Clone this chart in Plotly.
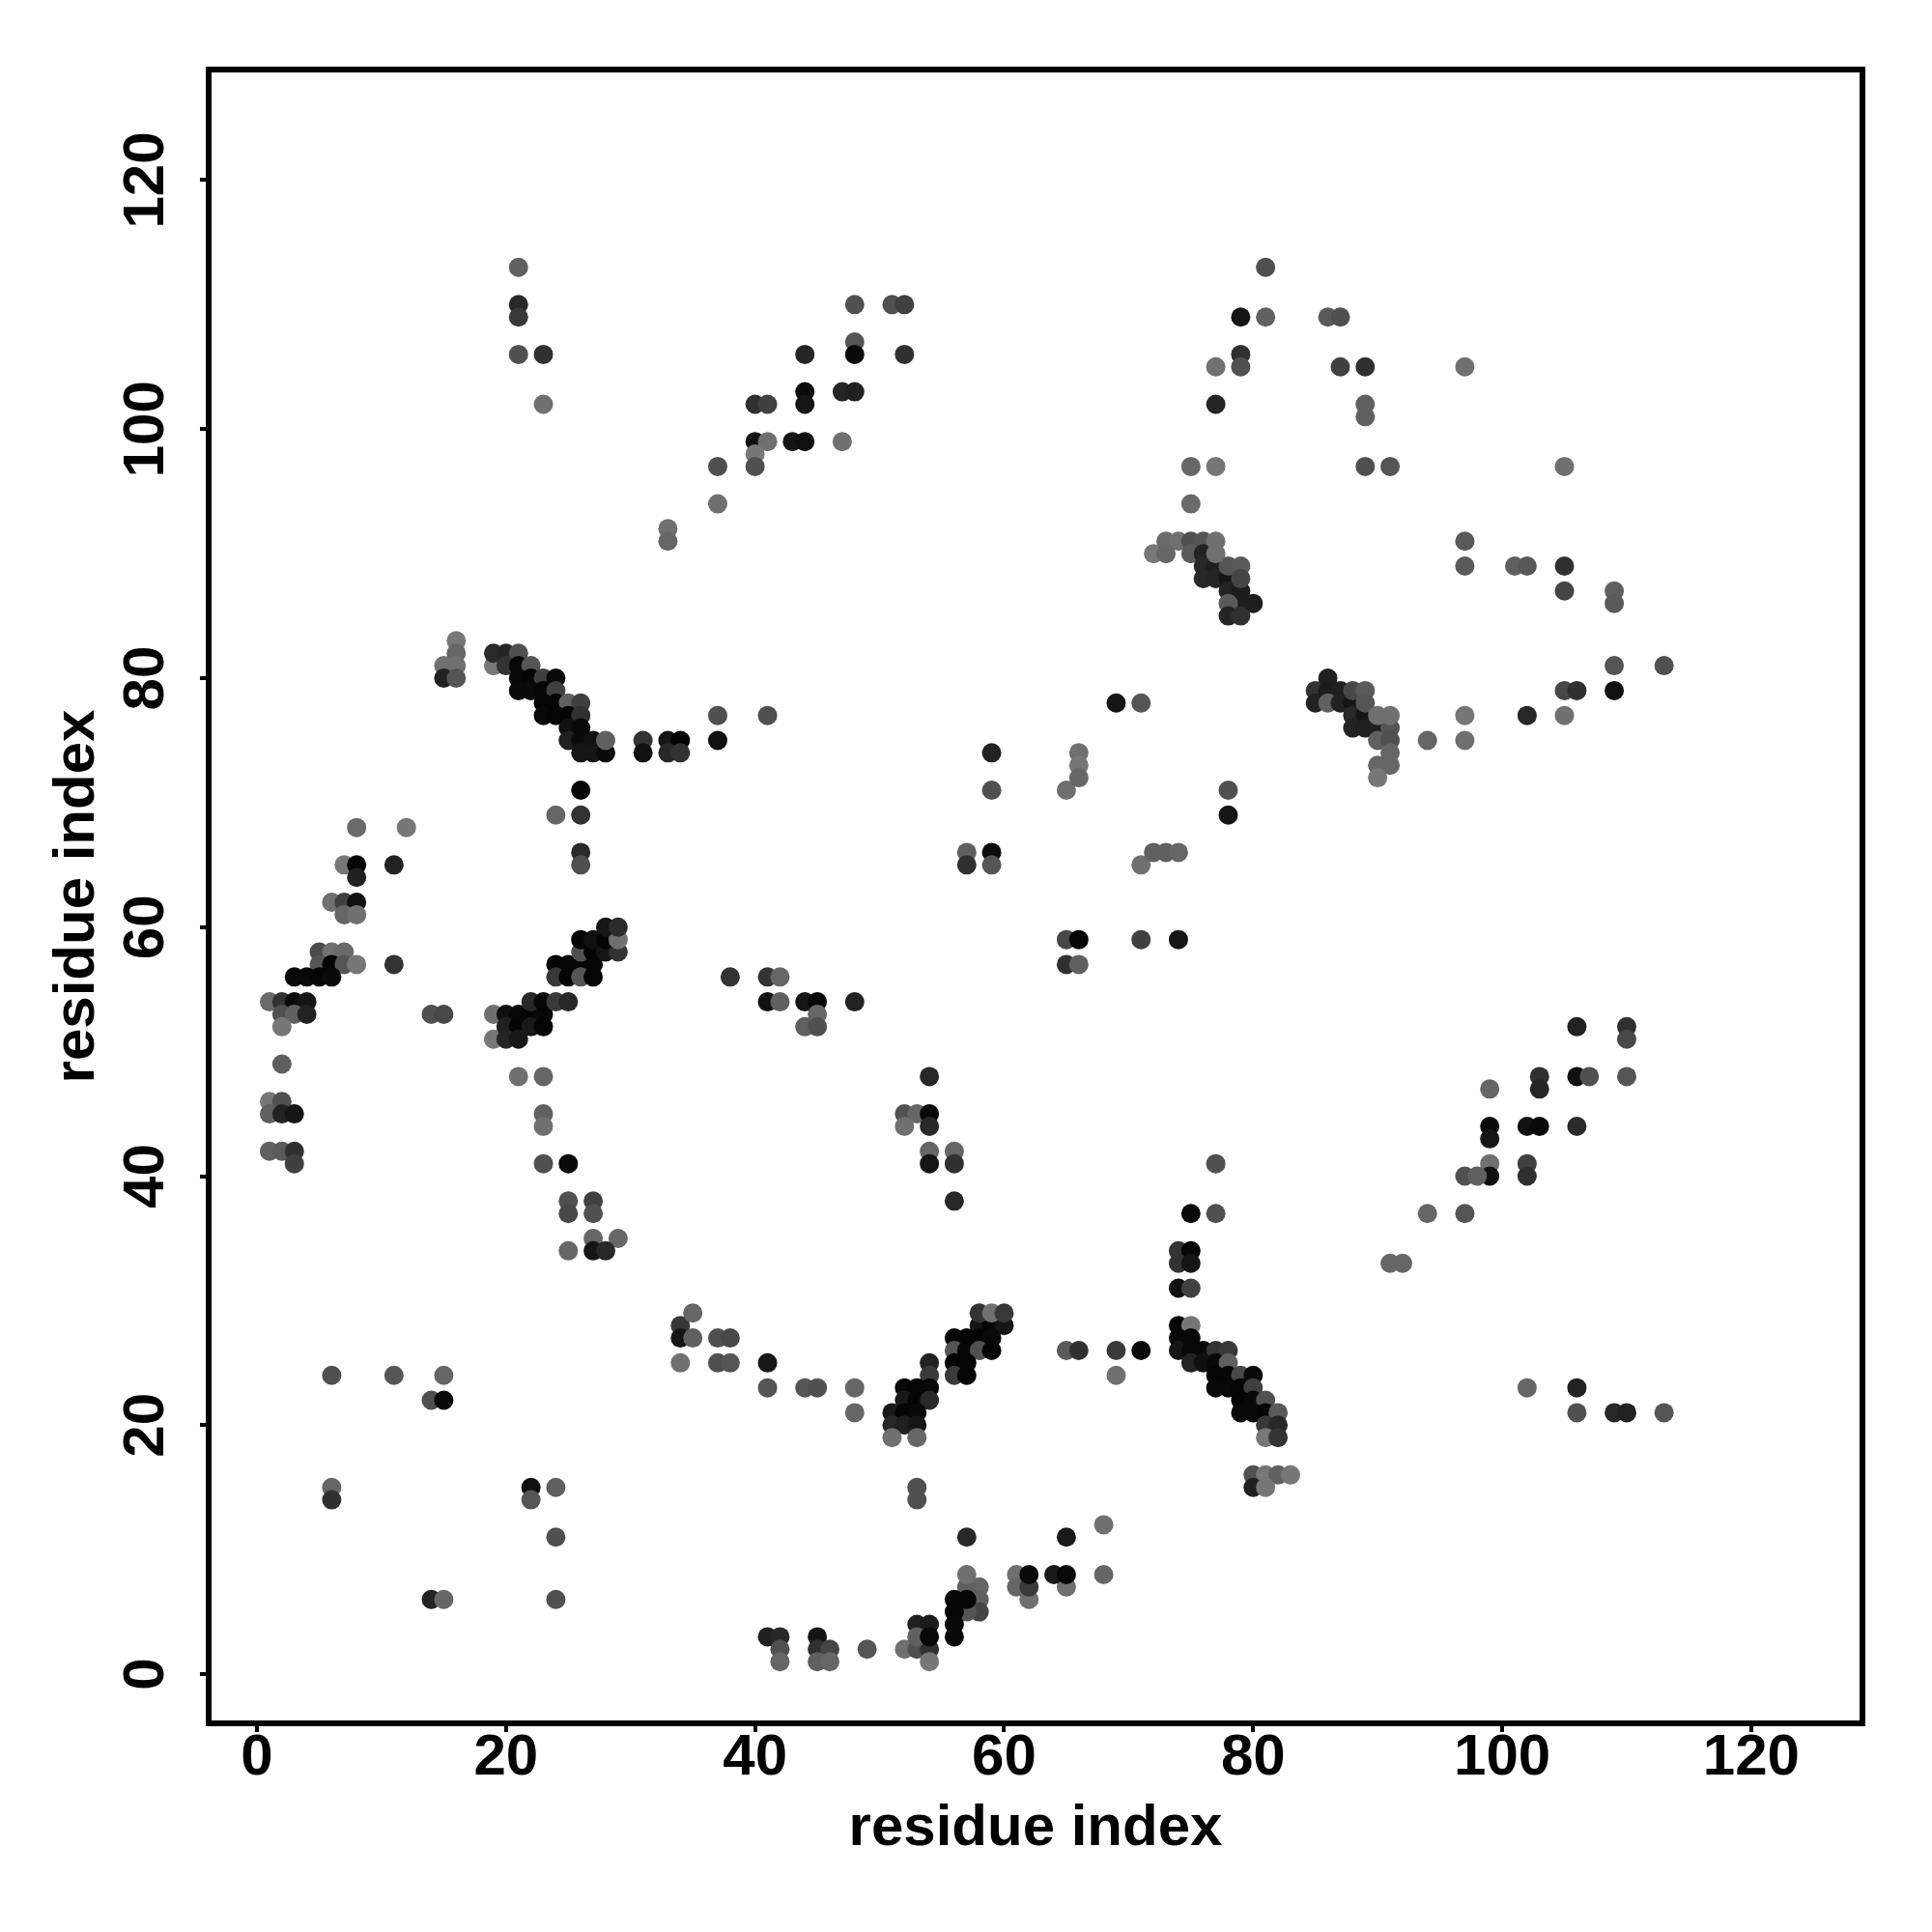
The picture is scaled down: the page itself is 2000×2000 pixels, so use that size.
import plotly.graph_objects as go

tick_values = [0, 20, 40, 60, 80, 100, 120]
axis_label = "residue index"

# (residue i, residue j, grey level)
upper_left = [(21,113,0x60),(21,110,0x28),(21,109,0x38),(21,106,0x50),(23,106,0x30),(23,102,0x70),
 (33,92,0x70),(33,91,0x66),(37,97,0x50),(37,94,0x70),(40,102,0x30),(41,102,0x40),(40,99,0x10),(41,99,0x70),
 (40,98,0x77),(40,97,0x50),(43,99,0x15),(44,99,0x10),(44,103,0x0a),(44,102,0x15),(44,106,0x25),(47,103,0x25),
 (48,103,0x20),(47,99,0x70),(48,110,0x50),(48,107,0x55),(48,106,0x0a),(51,110,0x50),(52,110,0x40),(52,106,0x30)]
upper_right = [(81,113,0x50),(81,109,0x60),(79,109,0x15),(79,106,0x30),(79,105,0x50),(77,105,0x70),(77,102,0x25),
 (75,97,0x66),(77,97,0x77),(75,94,0x6a),(86,109,0x5a),(87,109,0x50),(87,105,0x40),(89,105,0x30),(89,102,0x60),
 (89,101,0x60),(89,97,0x50),(91,97,0x55),(97,105,0x70),(105,97,0x70),(97,91,0x5a),(97,89,0x5a),(101,89,0x60),
 (102,89,0x58),(105,89,0x30),(105,87,0x45),(109,87,0x60),(109,86,0x5a),(109,81,0x55),(113,81,0x50),(105,79,0x48),
 (106,79,0x30),(109,79,0x10),(102,77,0x28),(105,77,0x70),(97,77,0x77),(97,75,0x70),(94,75,0x66)]
band_90 = [(73,91,0x6a),(74,91,0x70),(75,91,0x50),(76,91,0x55),(72,90,0x77),(73,90,0x66),(75,90,0x5a),(76,90,0x22),
 (76,89,0x28),(77,89,0x1f),(76,88,0x28),(77,88,0x25),(78,88,0x15),(78,87,0x22),(79,87,0x1c),(79,86,0x1c),(80,86,0x1e),
 (78,86,0x5a),(78,85,0x25),(79,85,0x30),(78,89,0x55),(79,89,0x5a),(79,88,0x45),(77,91,0x70),(77,90,0x70)]
band_78 = [(85,79,0x33),(85,78,0x22),(86,80,0x20),(86,79,0x1c),(87,79,0x20),(86,78,0x60),(87,78,0x22),(88,78,0x15),
 (88,77,0x28),(89,77,0x15),(88,76,0x22),(89,76,0x20),(90,76,0x20),(88,79,0x48),(89,79,0x5a),(89,78,0x55),(91,76,0x55),
 (90,75,0x5f),(91,75,0x50),(90,77,0x70),(91,77,0x70),(91,74,0x66),(90,73,0x66),(91,73,0x66),(90,72,0x77)]
band_80 = [(16,83,0x77),(16,82,0x66),(15,81,0x70),(16,81,0x70),(15,80,0x22),(16,80,0x55),(19,81,0x78),(19,82,0x2a),
 (20,82,0x25),(21,82,0x50),(20,81,0x33),(21,81,0x08),(22,81,0x55),(21,80,0x08),(22,80,0x05),(23,80,0x40),(24,80,0x0a),
 (21,79,0x0a),(22,79,0x0a),(23,79,0x05),(24,79,0x40),(23,78,0x05),(24,78,0x05),(25,78,0x60),(26,78,0x40),(23,77,0x08),
 (24,77,0x05),(25,77,0x05),(26,77,0x30),(25,76,0x10),(26,76,0x0a),(25,75,0x20),(26,75,0x0a),(27,75,0x10),(26,74,0x15),
 (27,74,0x15),(28,74,0x0a),(28,75,0x60),(31,75,0x33),(31,74,0x10),(33,75,0x15),(34,75,0x05),(33,74,0x28),(34,74,0x33),
 (37,77,0x50),(37,75,0x10),(41,77,0x50),(26,71,0x05),(24,69,0x66),(26,69,0x33),(26,66,0x2a),(26,65,0x50)]
band_56_left = [(8,68,0x6a),(12,68,0x77),(7,65,0x77),(8,65,0x05),(8,64,0x20),(11,65,0x22),(6,62,0x70),(7,62,0x40),
 (8,62,0x10),(7,61,0x66),(8,61,0x70),(5,58,0x4a),(6,58,0x70),(7,58,0x6a),(5,57,0x55),(6,57,0x05),(7,57,0x55),(8,57,0x77),
 (11,57,0x33),(3,56,0x0a),(4,56,0x0a),(5,56,0x05),(6,56,0x0a),(1,54,0x6a),(2,54,0x33),(3,54,0x0a),(4,54,0x15),(2,53,0x50),
 (3,53,0x60),(4,53,0x22),(2,52,0x77),(2,49,0x5f),(14,53,0x50),(15,53,0x48),(1,46,0x77),(2,46,0x50),(1,45,0x60),(2,45,0x22),
 (3,45,0x15),(1,42,0x60),(2,42,0x5a),(3,42,0x30),(3,41,0x40)]
band_56_mid = [(19,53,0x70),(20,53,0x10),(21,53,0x08),(22,53,0x05),(23,53,0x08),(22,54,0x28),(23,54,0x05),(24,54,0x3a),
 (25,54,0x28),(19,51,0x77),(20,52,0x20),(21,52,0x05),(22,52,0x18),(23,52,0x05),(20,51,0x25),(21,51,0x18),(24,57,0x05),
 (25,57,0x05),(26,57,0x05),(27,57,0x05),(24,56,0x38),(25,56,0x05),(26,56,0x55),(27,56,0x05),(26,58,0x50),(27,58,0x05),
 (28,58,0x15),(29,58,0x33),(26,59,0x05),(27,59,0x10),(28,59,0x05),(29,59,0x70),(28,60,0x15),(29,60,0x2a),(21,48,0x70),
 (23,48,0x66),(23,45,0x60),(23,44,0x70),(23,41,0x50),(25,41,0x0a),(25,38,0x50),(27,38,0x40),(25,37,0x48),(27,37,0x50),
 (25,34,0x66),(27,35,0x66),(29,35,0x66),(27,34,0x15),(28,34,0x28)]
middle = [(69,78,0x15),(71,78,0x55),(78,71,0x50),(78,69,0x15),(65,71,0x70),(66,74,0x70),(66,73,0x77),(66,72,0x66),
 (71,65,0x70),(72,66,0x60),(73,66,0x60),(74,66,0x66),(71,59,0x40),(74,59,0x15),(65,59,0x48),(66,59,0x05),(65,57,0x30),
 (66,57,0x60),(59,74,0x22),(59,71,0x50),(57,66,0x60),(57,65,0x30),(59,66,0x0a),(59,65,0x55),(38,56,0x33),(41,56,0x33),
 (42,56,0x66),(41,54,0x10),(42,54,0x60),(44,54,0x15),(45,54,0x08),(48,54,0x22),(45,53,0x66),(44,52,0x60),(45,52,0x50),
 (52,45,0x50),(53,45,0x66),(52,44,0x70),(54,45,0x08),(54,44,0x28),(54,48,0x28),(54,42,0x66),(56,42,0x66),(54,41,0x15),
 (56,41,0x30),(56,38,0x28)]
lower_right = [(99,47,0x66),(99,44,0x08),(99,43,0x15),(99,41,0x70),(99,40,0x10),(97,40,0x50),(98,40,0x60),(97,37,0x55),
 (94,37,0x66),(91,33,0x66),(92,33,0x66),(102,44,0x10),(103,44,0x0a),(102,41,0x40),(102,40,0x30),(103,48,0x30),(103,47,0x25),
 (106,52,0x22),(106,48,0x10),(107,48,0x50),(106,44,0x2a),(110,52,0x30),(110,51,0x48),(110,48,0x55),(102,23,0x66),
 (106,23,0x22),(106,21,0x50),(109,21,0x28),(110,21,0x22),(113,21,0x55),(77,41,0x50),(75,37,0x0a),(77,37,0x50)]
band_25_right = [(74,34,0x33),(75,34,0x05),(74,33,0x33),(75,33,0x15),(74,31,0x10),(75,31,0x40),(74,28,0x05),(75,28,0x77),
 (74,27,0x08),(75,27,0x08),(74,26,0x15),(75,26,0x08),(76,26,0x08),(77,26,0x33),(78,26,0x38),(75,25,0x22),(76,25,0x10),
 (77,25,0x08),(78,25,0x60),(77,24,0x05),(78,24,0x05),(79,24,0x48),(80,24,0x0a),(77,23,0x08),(78,23,0x08),(79,23,0x05),
 (80,23,0x40),(79,22,0x05),(80,22,0x08),(81,22,0x50),(79,21,0x08),(80,21,0x08),(81,21,0x05),(82,21,0x5a),(81,20,0x38),
 (82,20,0x28),(81,19,0x77),(82,19,0x33),(80,16,0x50),(81,16,0x77),(82,16,0x60),(83,16,0x77),(80,15,0x20),(81,15,0x77),
 (65,26,0x5a),(66,26,0x30),(69,26,0x3a),(71,26,0x08),(69,24,0x70)]
band_25_left = [(58,28,0x15),(59,28,0x05),(60,28,0x15),(58,29,0x33),(59,29,0x70),(60,29,0x38),
 (56,27,0x05),(57,27,0x05),(58,27,0x05),(59,27,0x0a),(56,26,0x55),(57,26,0x05),(58,26,0x50),(59,26,0x05),(56,25,0x05),
 (57,25,0x05),(54,25,0x22),(56,24,0x3a),(57,24,0x05),(54,24,0x3a),(52,23,0x08),(53,23,0x05),(54,23,0x08),(52,22,0x18),
 (53,22,0x05),(54,22,0x28),(51,21,0x1a),(52,21,0x05),(53,21,0x08),(51,20,0x28),(52,20,0x20),(53,20,0x15),(51,19,0x70),
 (53,19,0x66),(48,23,0x66),(48,21,0x66),(53,15,0x50),(53,14,0x50),(34,28,0x38),(34,27,0x15),(35,29,0x66),(35,27,0x60),
 (34,25,0x70),(37,27,0x50),(38,27,0x48),(37,25,0x50),(38,25,0x55),(41,25,0x18),(41,23,0x55),(44,23,0x55),(45,23,0x50)]
lower_left = [(6,24,0x50),(11,24,0x55),(14,22,0x50),(15,22,0x08),(15,24,0x66),(6,15,0x66),(6,14,0x30),(22,15,0x10),
 (22,14,0x55),(24,15,0x60),(24,11,0x50),(14,6,0x22),(15,6,0x66),(24,6,0x50)]
bottom = [(41,3,0x20),(42,3,0x28),(42,2,0x50),(42,1,0x66),(45,3,0x15),(45,2,0x30),(46,2,0x45),(45,1,0x60),(46,1,0x66),
 (49,2,0x55),(52,2,0x70),(53,2,0x50),(54,2,0x30),(54,1,0x77),(53,4,0x20),(54,4,0x1a),(53,3,0x60),(54,3,0x08),(58,7,0x66),
 (58,6,0x60),(58,5,0x45),(57,5,0x55),(57,7,0x60),(57,8,0x70),(56,6,0x05),(57,6,0x05),(56,5,0x05),(56,4,0x08),(56,3,0x08),
 (57,11,0x28),(61,8,0x70),(61,7,0x66),(62,6,0x70),(62,7,0x3a),(62,8,0x0a),(65,7,0x70),(64,8,0x1a),(65,8,0x08),(65,11,0x1a),
 (68,12,0x70),(68,8,0x66)]

groups = [upper_left, upper_right, band_90, band_78, band_80, band_56_left, band_56_mid, middle,
          lower_right, band_25_right, band_25_left, lower_left, bottom]
points = [p for g in groups for p in g]
xs = [p[0] for p in points]
ys = [p[1] for p in points]
colors = [f"rgb({p[2]},{p[2]},{p[2]})" for p in points]

FONT = "Liberation Sans"
label_font = dict(family=FONT, size=60, color="black", weight="bold")
fig = go.Figure(go.Scatter(x=xs, y=ys, mode="markers",
                           marker=dict(size=20, color=colors, line=dict(width=0)),
                           hoverinfo="skip", showlegend=False))
axis = dict(tickmode="array", tickvals=tick_values,
            ticks="outside", ticklen=6, tickwidth=4, tickcolor="black",
            showline=True, linewidth=6, linecolor="black", mirror=True,
            showgrid=False, zeroline=False, tickfont=label_font)
fig.update_xaxes(**axis, range=[-3.65, 128.7], ticklabelstandoff=-28,
                 title=dict(text=axis_label, standoff=21, font=label_font))
fig.update_yaxes(**axis, range=[-3.72, 128.65], tickangle=-90, ticklabelstandoff=14,
                 ticklabelshift=9,
                 title=dict(text=axis_label, standoff=0, font=label_font))
fig.update_layout(width=2000, height=2000, paper_bgcolor="white", plot_bgcolor="white",
                  margin=dict(l=211, r=83, t=67, b=227, autoexpand=False))
fig.write_html("out.html")
